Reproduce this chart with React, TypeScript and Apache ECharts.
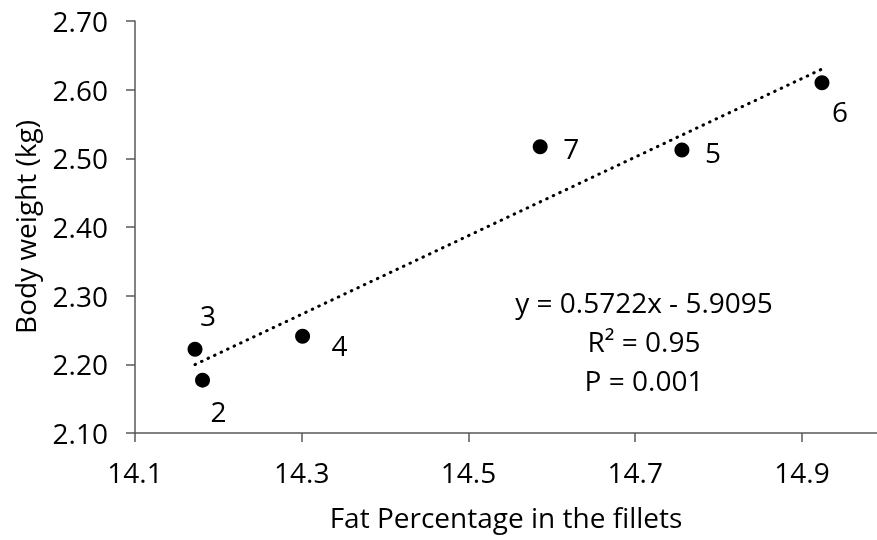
import React, { useEffect, useRef } from "react";
import * as echarts from "echarts";

// Data
const pointNames = ["3", "2", "4", "7", "5", "6"];
const fatPercent = [14.172, 14.181, 14.301, 14.586, 14.756, 14.924];
const bodyWeight = [2.222, 2.177, 2.241, 2.517, 2.512, 2.61];

const trendSlope = 0.5722;
const trendIntercept = -5.9095;

const equationLines = ["y = 0.5722x - 5.9095", "R² = 0.95", "P = 0.001"];

const xAxisTitle = "Fat Percentage in the fillets";
const yAxisTitle = "Body weight (kg)";

// Styling: label offsets per point (pixels)
const labelOffsets: Record<string, [number, number]> = {
  "3": [13, -34],
  "2": [16, 31],
  "4": [37, 9],
  "7": [31, 1],
  "5": [31, 2],
  "6": [18, 28],
};

const FONT = "'Open Sans'";
const FS = 28;
const AXIS_COLOR = "#595959";
const TEXT_COLOR = "#000";

export default function App() {
  const ref = useRef<HTMLDivElement>(null);

  useEffect(() => {
    if (!ref.current) return;
    const chart = echarts.init(ref.current, null, { renderer: "svg" });

    const xMin = Math.min(...fatPercent);
    const xMax = Math.max(...fatPercent);
    const trendData = [
      [xMin, trendSlope * xMin + trendIntercept],
      [xMax, trendSlope * xMax + trendIntercept],
    ];

    const scatterData = pointNames.map((n, i) => ({
      name: n,
      value: [fatPercent[i], bodyWeight[i]],
      label: { offset: labelOffsets[n] },
    }));

    chart.setOption({
      animation: false,
      grid: { left: 135, right: 0, top: 21, bottom: 107, containLabel: false },
      xAxis: {
        type: "value",
        min: 14.1,
        max: 14.99,
        interval: 0.2,
        name: xAxisTitle,
        nameLocation: "middle",
        nameGap: 70,
        nameTextStyle: { fontFamily: FONT, fontSize: FS, color: TEXT_COLOR },
        axisLine: { show: true, lineStyle: { color: AXIS_COLOR, width: 1.5 } },
        axisTick: { show: true, length: 9, lineStyle: { color: AXIS_COLOR, width: 1.5 } },
        axisLabel: {
          fontFamily: FONT,
          fontSize: FS,
          color: TEXT_COLOR,
          margin: 25,
          showMaxLabel: false,
          formatter: (v: number) => v.toFixed(1),
        },
        splitLine: { show: false },
      },
      yAxis: {
        type: "value",
        min: 2.1,
        max: 2.7,
        interval: 0.1,
        name: yAxisTitle,
        nameLocation: "middle",
        nameGap: 96,
        nameTextStyle: { fontFamily: FONT, fontSize: FS, color: TEXT_COLOR },
        axisLine: { show: true, lineStyle: { color: AXIS_COLOR, width: 1.5 } },
        axisTick: { show: true, length: 9, lineStyle: { color: AXIS_COLOR, width: 1.5 } },
        axisLabel: {
          fontFamily: FONT,
          fontSize: FS,
          color: TEXT_COLOR,
          margin: 27,
          formatter: (v: number) => v.toFixed(2),
        },
        splitLine: { show: false },
      },
      series: [
        {
          type: "line",
          data: trendData,
          symbol: "none",
          lineStyle: { color: "#000", width: 3, type: [0.5, 6.7], cap: "round" },
          silent: true,
          z: 1,
        },
        {
          type: "scatter",
          data: scatterData,
          symbol: "circle",
          symbolSize: 15,
          itemStyle: { color: "#000", opacity: 1 },
          label: {
            show: true,
            position: "inside",
            formatter: "{b}",
            fontFamily: FONT,
            fontSize: FS,
            color: TEXT_COLOR,
            opacity: 1,
            textBorderWidth: 0,
            align: "center",
            verticalAlign: "middle",
          },
          z: 2,
        },
      ],
      graphic: equationLines.map((t, i) => ({
        type: "text",
        x: 644,
        y: 302 + i * 39,
        style: {
          text: t,
          fontFamily: FONT,
          fontSize: FS,
          fill: TEXT_COLOR,
          align: "center",
          verticalAlign: "middle",
        },
      })),
    });

    return () => chart.dispose();
  }, []);

  return <div ref={ref} style={{ width: 877, height: 540, position: "fixed", left: 0, top: 0 }} />;
}
